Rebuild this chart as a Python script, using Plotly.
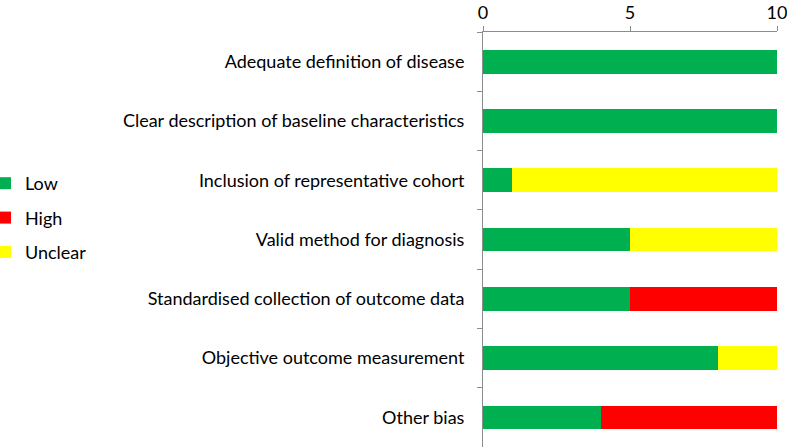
import plotly.graph_objects as go

categories = [
    "Adequate definition of disease",
    "Clear description of baseline characteristics",
    "Inclusion of representative cohort",
    "Valid method for diagnosis",
    "Standardised collection of outcome data",
    "Objective outcome measurement",
    "Other bias",
]
low = [10, 10, 1, 5, 5, 8, 4]
high = [0, 0, 0, 0, 5, 0, 6]
unclear = [0, 0, 9, 5, 0, 2, 0]
x_ticks = [0, 5, 10]

series = [("Low", low, "#00b050"), ("High", high, "#ff0000"), ("Unclear", unclear, "#ffff00")]

fig = go.Figure()
for name, vals, col in series:
    fig.add_trace(go.Bar(
        y=categories, x=vals, name=name, orientation="h",
        marker=dict(color=col, line=dict(width=0)),
        width=0.4, legendgroup=name,
    ))

W, H = 787, 448
L, R, T, B = 483, 10, 32, 1
fig.update_layout(
    barmode="stack",
    width=W, height=H,
    margin=dict(l=L, r=R, t=T, b=B, autoexpand=False),
    plot_bgcolor="white", paper_bgcolor="white",
    font=dict(family="Lato, Carlito, Liberation Sans", size=18, color="#000000"),
    showlegend=True,
    legend=dict(
        xref="paper", yref="container", x=(-15 - L) / (W - L - R), y=1 - 165 / H,
        xanchor="left", yanchor="top", traceorder="grouped", tracegroupgap=8,
        font=dict(size=18), itemwidth=30, bgcolor="rgba(0,0,0,0)",
    ),
    xaxis=dict(
        side="top", range=[0, 10], tickvals=x_ticks, showgrid=False,
        showline=True, linecolor="#8c8c8c", linewidth=1, automargin=False,
        ticks="outside", ticklen=5, tickcolor="#8c8c8c", zeroline=False,
        tickfont=dict(size=18), ticklabeloverflow="allow",
    ),
    yaxis=dict(
        categoryorder="array", categoryarray=categories, autorange="reversed",
        showline=True, linecolor="#8c8c8c", linewidth=1, showgrid=False, automargin=False,
        ticks="outside", ticklen=5, tickcolor="#8c8c8c", tickson="boundaries",
        ticklabelstandoff=14, tickfont=dict(size=18),
    ),
)

fig.write_html(
    "out.html",
    config={"displayModeBar": False},
    post_script="document.body.style.margin='0';",
)
